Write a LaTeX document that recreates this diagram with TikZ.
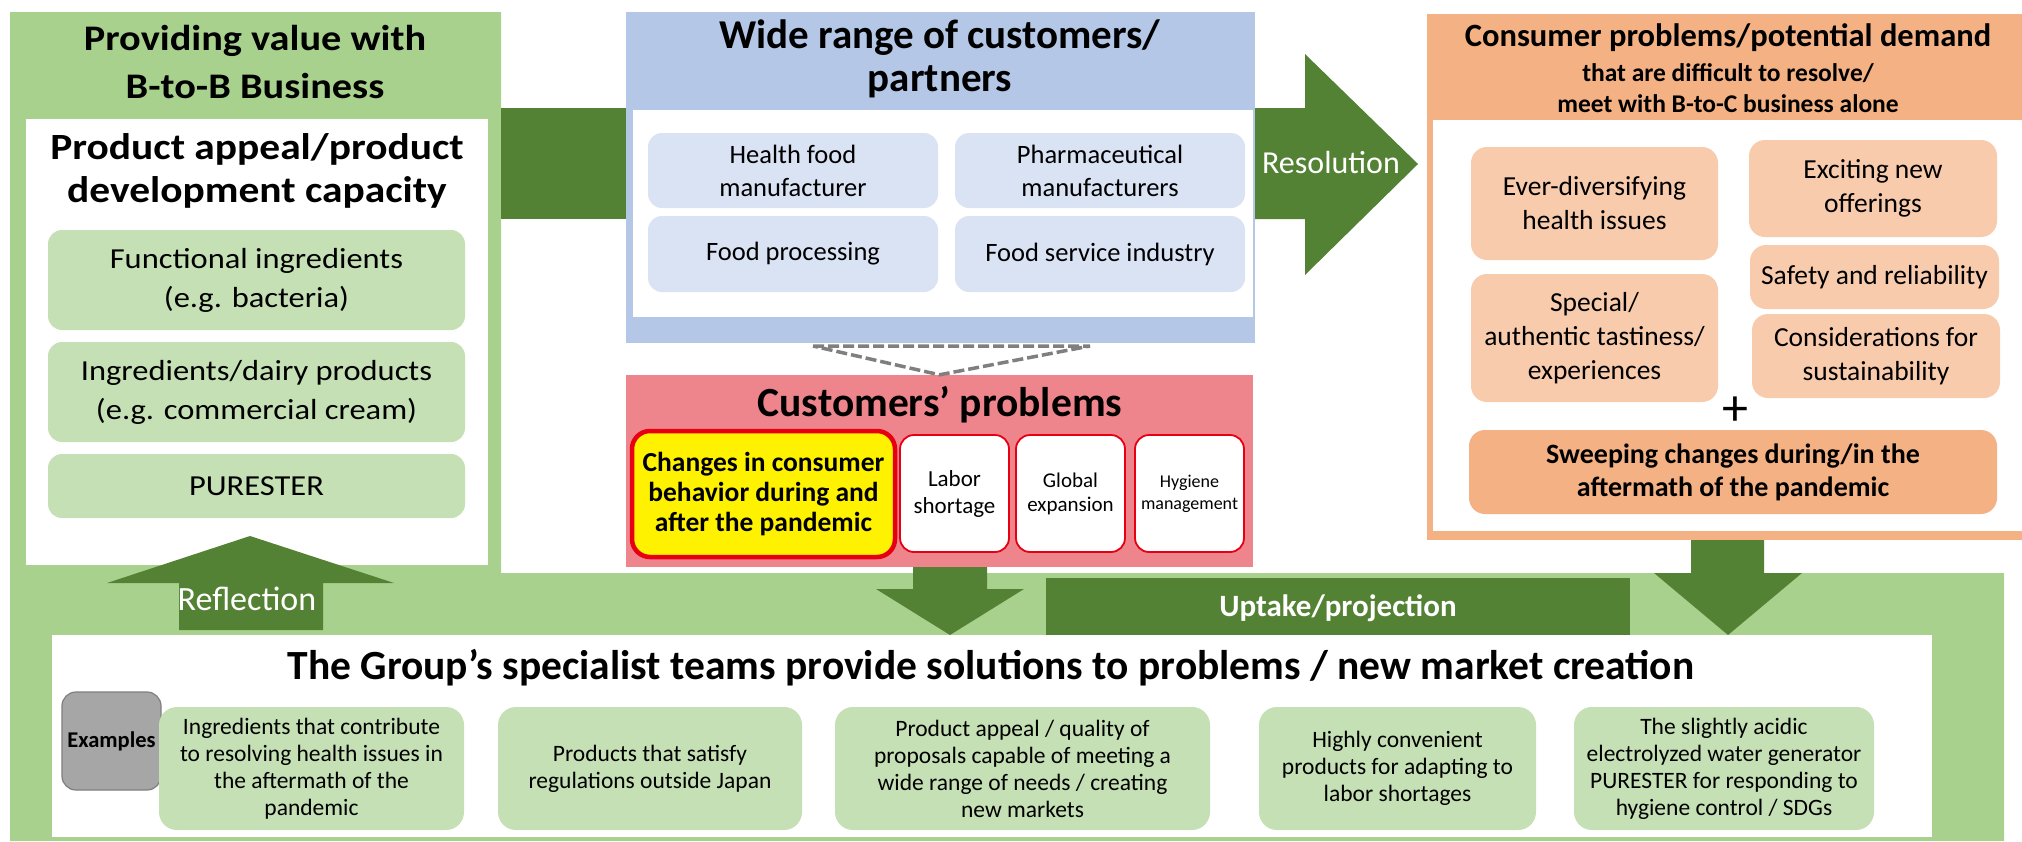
\documentclass[tikz,border=0pt]{standalone}
\usepackage{fontspec}
\setmainfont{Carlito}
\newfontfamily\widecal{Carlito}[FakeStretch=1.12]
\definecolor{dgreen}{HTML}{548235}
\definecolor{lgreen}{HTML}{A9D18E}
\definecolor{pgreen}{HTML}{C5E0B4}
\definecolor{lblue}{HTML}{B4C7E7}
\definecolor{pblue}{HTML}{DAE3F3}
\definecolor{pinkbg}{HTML}{EF858C}
\definecolor{orng}{HTML}{F4B183}
\definecolor{porng}{HTML}{F8CBAD}
\definecolor{redb}{HTML}{E60012}
\definecolor{grayb}{HTML}{A6A6A6}
\definecolor{dashgray}{HTML}{7F7F7F}
\tikzset{
  fs/.style 2 args={font=\fontsize{#1}{#2}\selectfont},
  bfs/.style 2 args={font=\bfseries\fontsize{#1}{#2}\selectfont},
  lsub/.style={fill=pgreen,rounded corners=14pt,font=\widecal\fontsize{29}{39}\selectfont},
  bsub/.style={fill=pblue,rounded corners=14pt,fs={26.5}{33}},
  psub/.style={fill=white,draw=redb,line width=1.8pt,rounded corners=14pt},
  osub/.style={fill=porng,rounded corners=16pt,fs={27.5}{34}},
  esub/.style={fill=pgreen,rounded corners=18pt,fs={23.5}{27}},
  arr/.style={fill=dgreen},
}
\begin{document}
\begin{tikzpicture}[x=1pt,y=-1pt,every node/.style={inner sep=0pt,align=center}]
\useasboundingbox (0,0) rectangle (2022,841);
\fill[lgreen] (10,12)--(501,12)--(501,573)--(2004,573)--(2004,841)--(10,841)--cycle;
\foreach \nm/\xa/\ya/\xb/\yb/\col in {dev/26/119/488/565/white,cust/626/12/1255/343/lblue,custin/633/110/1253/317/white,
  probs/626/375/1253/567/pinkbg,cons/1427/14/2022/540/orng,consin/1433/120/2022/531/white,sol/52/635/1932/837/white}
  {\node[fill=\col,minimum width=\xb-\xa,minimum height=\yb-\ya] (\nm) at ({(\xa+\xb)/2},{(\ya+\yb)/2}) {};}
\fill[arr] (501,108) rectangle (626,219);
\fill[arr] (1255,108)--(1305,108)--(1305,54)--(1418,164)--(1305,275)--(1305,219)--(1255,219)--cycle;
\fill[arr] (179,630)--(179,583)--(107,583)--(250,536)--(394,583)--(323,583)--(323,630)--cycle;
\fill[arr] (913,567)--(913,589)--(876,589)--(950,635)--(1024,589)--(987,589)--(987,567)--cycle;
\fill[arr] (1691,540)--(1691,573)--(1654,573)--(1728,635)--(1802,573)--(1764,573)--(1764,540)--cycle;
\fill[arr] (1046,578) rectangle (1630,635);
\draw[dashgray,line width=3.5pt,dash pattern=on 11pt off 4pt] (813,346)--(1090,346)--(probs.north)--cycle;
\node[font=\widecal\bfseries\fontsize{36}{48}\selectfont] (bbiz) at (255,62) {Providing value with\\B-to-B Business};
\node[font=\widecal\bfseries\fontsize{37}{43}\selectfont] (devt) at (257,171) {Product appeal/product\\development capacity};
\foreach \nm/\xa/\ya/\xb/\yb/\txt in {ing1/48/230/465/330/{Functional ingredients\\(e.g. bacteria)},
  ing2/48/342/465/442/{Ingredients/dairy products\\(e.g. commercial cream)},pur/48/454/465/518/PURESTER}
  {\node[lsub,minimum width=\xb-\xa,minimum height=\yb-\ya] (\nm) at ({(\xa+\xb)/2},{(\ya+\yb)/2}) {\txt};}
\node[bfs={41}{43}] (custt) at (940,58.5) {Wide range of customers/\\partners};
\foreach \nm/\xa/\ya/\xb/\yb/\txt in {hfood/648/133/938/208/{Health food\\manufacturer},pharm/955/133/1245/208/{Pharmaceutical\\manufacturers},
  fproc/648/216/938/292/{Food processing},fserv/955/216/1245/292/{Food service industry}}
  {\node[bsub,minimum width=\xb-\xa,minimum height=\yb-\ya] (\nm) at ({(\xa+\xb)/2},{(\ya+\yb)/2}) {\txt};}
\node[bfs={41.5}{44}] (probst) at (940,405) {Customers’ problems};
\node[fill=yellow,draw=redb,line width=4.5pt,rounded corners=18pt,minimum width=263,minimum height=126,bfs={27.5}{30}] (chg) at (763.5,494) {Changes in consumer\\behavior during and\\after the pandemic};
\foreach \nm/\xa/\txt/\sz/\sk in {labor/900/{Labor\\shortage}/23/27,glob/1016/{Global\\expansion}/21/24,hyg/1135/{Hygiene\\management}/18/22}
  {\node[psub,minimum width=109,minimum height=117,fs={\sz}{\sk}] (\nm) at (\xa+54.5,493.5) {\txt};}
\node[text=white,fs={32}{36}] (resol) at (1331,163) {Resolution};
\node[bfs={32.5}{36}] (const) at (1728,37.5) {Consumer problems/potential demand};
\node[bfs={25.5}{31}] (consd) at (1728,88.5) {that are difficult to resolve/\\meet with B-to-C business alone};
\foreach \nm/\xa/\ya/\xb/\yb/\txt in {ever/1471/147/1718/260/{Ever-diversifying\\health issues},excit/1749/140/1997/237/{Exciting new\\offerings},
  safe/1750/245/1999/309/{Safety and reliability},sust/1752/314/2000/398/{Considerations for\\sustainability},
  spec/1471/274/1718/402/{Special/\\authentic tastiness/\\experiences}}
  {\node[osub,minimum width=\xb-\xa,minimum height=\yb-\ya] (\nm) at ({(\xa+\xb)/2},{(\ya+\yb)/2}) {\txt};}
\node[fs={52}{52}] (plus) at (1735.5,411) {+};
\node[fill=orng,rounded corners=16pt,minimum width=528,minimum height=84,bfs={28}{33}] (sweep) at (1733,472) {Sweeping changes during/in the\\aftermath of the pandemic};
\node[text=white,bfs={31}{34}] (uptk) at (1338,608) {Uptake/projection};
\node[text=white,fs={34}{36}] (refl) at (247,599) {Reflection};
\node[bfs={41.5}{44}] (solt) at (991,668) {The Group’s specialist teams provide solutions to problems / new market creation};
\node[fill=grayb,draw=dashgray,line width=1.2pt,rounded corners=14pt,minimum width=99,minimum height=98,bfs={22.5}{24}] (exmp) at (111.5,741) {Examples};
\foreach \nm/\xa/\xb/\txt in {ex1/159/464/{Ingredients that contribute\\to resolving health issues in\\the aftermath of the\\pandemic},
  ex2/498/802/{Products that satisfy\\regulations outside Japan},
  ex3/835/1210/{Product appeal / quality of\\proposals capable of meeting a\\wide range of needs / creating\\new markets},
  ex4/1259/1536/{Highly convenient\\products for adapting to\\labor shortages},
  ex5/1574/1874/{The slightly acidic\\electrolyzed water generator\\PURESTER for responding to\\hygiene control / SDGs}}
  {\node[esub,minimum width=\xb-\xa,minimum height=123] (\nm) at ({(\xa+\xb)/2},768.5) {\txt};}
\end{tikzpicture}
\end{document}
